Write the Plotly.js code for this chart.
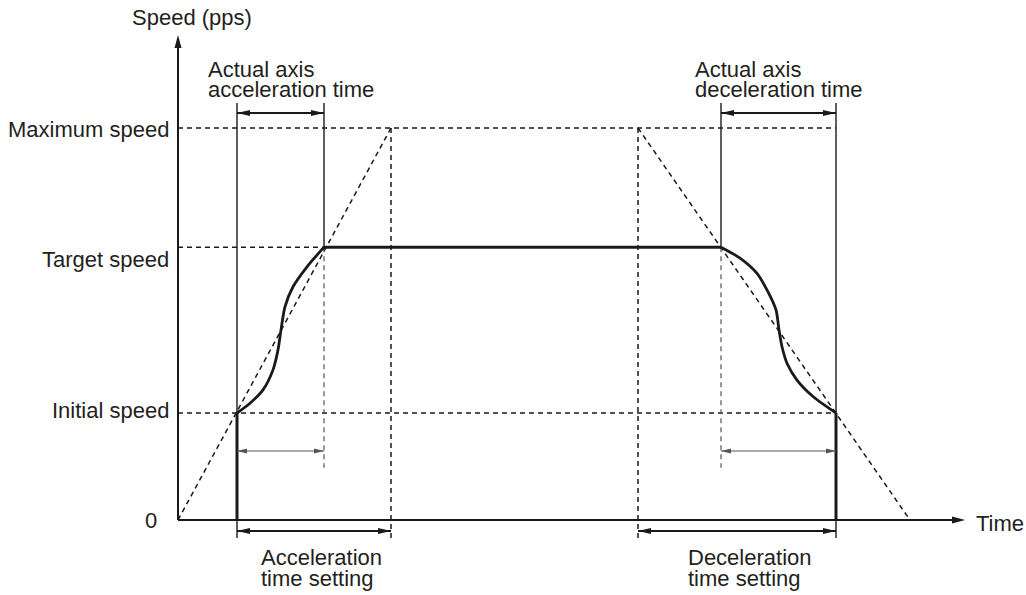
<!DOCTYPE html>
<html>
<head>
<meta charset="utf-8">
<script src="https://cdn.plot.ly/plotly-3.0.1.min.js"></script>
<style>html,body{margin:0;padding:0;background:#fff;}</style>
</head>
<body>
<div id="chart" style="width:1026px;height:595px;"></div>
<script>
// ---- Data ----
// Speed levels, in % of maximum speed
const speedLabels = ['Initial speed', 'Target speed', 'Maximum speed'];
const speedLevels = [27.3, 69.6, 100];
// Time marks (arbitrary time units)
// accel start, target reached, accel setting end, decel setting start,
// decel start, stop, ramp end, axis end
const timeMarks = [5.9, 14.6, 21.3, 46.0, 54.3, 65.8, 73.2, 78.7];
const speedAxisTop = 123.7;
// S-curve acceleration (actual axis)
const accelT = [5.9, 7.2, 8.5, 9.5, 10.0, 10.3, 10.7, 11.5, 12.9, 14.6];
const accelV = [27.3, 29.8, 33.2, 38.3, 43.4, 48.5, 54.4, 59.5, 64.6, 69.6];
// S-curve deceleration (actual axis)
const decelT = [54.3, 56.2, 57.9, 59.0, 59.8, 60.1, 60.4, 60.9, 61.9, 63.5, 65.8];
const decelV = [69.6, 66.8, 62.9, 58.2, 53.6, 48.5, 44.2, 40.0, 35.7, 31.5, 27.3];
// Text labels
const axisTitles = ['Speed (pps)', 'Time', '0'];
const topLabels = [['Actual axis', 'acceleration time'], ['Actual axis', 'deceleration time']];
const bottomLabels = [['Acceleration', 'time setting'], ['Deceleration', 'time setting']];

// ---- Build ----
const [VI, VT, VM] = speedLevels;
const [TS, TR, TA, TD, TB, TE, TZ, TX] = timeMarks;

// layout helper positions (speed units)
const yTopExt = 106.4, yTopDim = 103.8, yMidDim = 17.6, yMidExt = 13.3, yBotDim = -2.8, yBotExt = -4.6;

const INK = '#1a1a1a', GRAY = '#555555';
const DASH = '5px,4px';

function seg(xs, ys, w, color, dash, shape) {
  return {x: xs, y: ys, type: 'scatter', mode: 'lines',
    line: {width: w, color: color, dash: dash || 'solid', shape: shape || 'linear', smoothing: 0.8},
    hoverinfo: 'skip', showlegend: false, cliponaxis: false, connectgaps: false};
}

const traces = [
  // axes
  seg([0, 0, null, 0, TX - 1], [0, speedAxisTop - 3, null, 0, 0], 2, INK),
  // dashed reference levels
  seg([0, TE, null, 0, TR, null, 0, TE], [VM, VM, null, VT, VT, null, VI, VI], 1.5, INK, DASH),
  // dashed ramp lines (setting)
  seg([0, TA, null, TD, TZ], [0, VM, null, VM, 0], 1.5, INK, DASH),
  // dashed verticals at setting times
  seg([TA, TA, null, TD, TD], [VM, yBotExt, null, VM, yBotExt], 1.5, INK, DASH),
  // gray dashed verticals at actual times
  seg([TR, TR, null, TB, TB], [VT, yMidExt, null, VT, yMidExt], 1.2, GRAY, DASH),
  // thin solid verticals
  seg([TS, TS, null, TE, TE, null, TR, TR, null, TB, TB],
      [yTopExt, yBotExt, null, yTopExt, yBotExt, null, yTopExt, VT, null, yTopExt, VT], 1.4, INK),
  // thick speed profile
  seg([TS, TS, null, TR, TB, null, TE, TE], [0, VI, null, VT, VT, null, VI, 0], 3, INK),
  seg(accelT, accelV, 2.8, INK, 'solid', 'spline'),
  seg(decelT, decelV, 2.8, INK, 'solid', 'spline'),
  // dimension lines
  seg([TS, TR, null, TB, TE, null, TS, TA, null, TD, TE],
      [yTopDim, yTopDim, null, yTopDim, yTopDim, null, yBotDim, yBotDim, null, yBotDim, yBotDim], 2, INK),
  seg([TS, TR, null, TB, TE], [yMidDim, yMidDim, null, yMidDim, yMidDim], 1.2, GRAY)
];

function head(x, y, dir, len, wid, color) {
  const h = wid / 2;
  let p;
  if (dir === 'right') p = `M0,0 L${-len},${h} L${-len},${-h} Z`;
  else if (dir === 'left') p = `M0,0 L${len},${h} L${len},${-h} Z`;
  else p = `M0,0 L${-h},${-len} L${h},${-len} Z`;
  return {type: 'path', xref: 'x', yref: 'y', xsizemode: 'pixel', ysizemode: 'pixel',
    xanchor: x, yanchor: y, path: p, fillcolor: color, line: {width: 0}, layer: 'above'};
}

const shapes = [
  head(0, speedAxisTop, 'up', 13, 7, INK),
  head(TX, 0, 'right', 13, 7, INK),
  head(TS, yTopDim, 'left', 13, 6, INK), head(TR, yTopDim, 'right', 13, 6, INK),
  head(TB, yTopDim, 'left', 13, 6, INK), head(TE, yTopDim, 'right', 13, 6, INK),
  head(TS, yBotDim, 'left', 13, 6, INK), head(TA, yBotDim, 'right', 13, 6, INK),
  head(TD, yBotDim, 'left', 13, 6, INK), head(TE, yBotDim, 'right', 13, 6, INK),
  head(TS, yMidDim, 'left', 10, 5, GRAY), head(TR, yMidDim, 'right', 10, 5, GRAY),
  head(TB, yMidDim, 'left', 10, 5, GRAY), head(TE, yMidDim, 'right', 10, 5, GRAY)
];

const FONT = {family: '"Liberation Sans", Arial, Helvetica, sans-serif', size: 22, color: '#231f20'};
function txt(text, x, y, xanchor, yshift) {
  return {text: text, x: x, y: y, xref: 'x', yref: 'y', xanchor: xanchor, yanchor: 'middle',
    showarrow: false, font: FONT, yshift: yshift || 0, borderpad: 0};
}
const speedLabelShift = [2, -12, -2];
const annotations = [
  txt(axisTitles[0], 1.4, 128.1, 'center'),
  txt(axisTitles[1], 79.7, -0.8, 'left'),
  txt(axisTitles[2], -2.7, -0.25, 'center'),
  ...speedLabels.map((s, i) => txt(s, -0.8, speedLevels[i], 'right', speedLabelShift[i])),
  txt(topLabels[0][0], 2.9, 115.0, 'left'), txt(topLabels[0][1], 2.9, 109.8, 'left'),
  txt(topLabels[1][0], 51.6, 115.0, 'left'), txt(topLabels[1][1], 51.6, 109.8, 'left'),
  txt(bottomLabels[0][0], 8.2, -9.6, 'left'), txt(bottomLabels[0][1], 8.2, -15.0, 'left'),
  txt(bottomLabels[1][0], 50.9, -9.6, 'left'), txt(bottomLabels[1][1], 50.9, -15.0, 'left')
];

const layout = {
  width: 1026, height: 595,
  margin: {l: 0, r: 0, t: 0, b: 0, pad: 0},
  paper_bgcolor: '#ffffff', plot_bgcolor: '#ffffff',
  xaxis: {range: [-17.8, 84.8], visible: false, fixedrange: true},
  yaxis: {range: [-19.13, 132.65], visible: false, fixedrange: true},
  showlegend: false, hovermode: false,
  shapes: shapes, annotations: annotations
};

Plotly.newPlot('chart', traces, layout, {staticPlot: true, displayModeBar: false});
</script>
</body>
</html>
